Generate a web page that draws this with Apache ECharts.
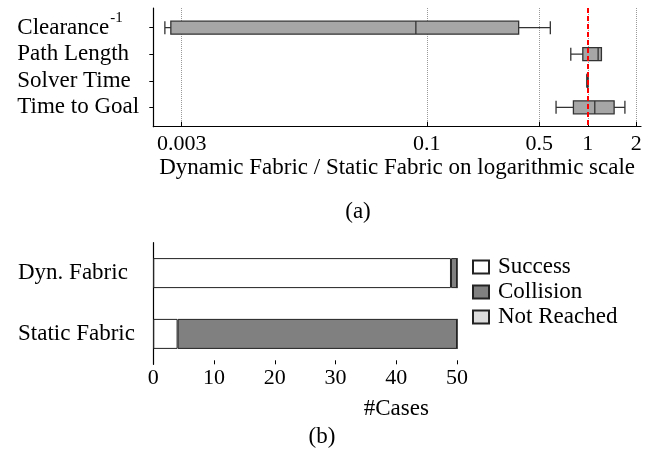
<!DOCTYPE html>
<html><head><meta charset="utf-8">
<script src="https://cdn.jsdelivr.net/npm/echarts@6/dist/echarts.min.js"></script>
<style>html,body{margin:0;padding:0;background:#fff}#c{width:650px;height:459px}</style>
</head><body><div id="c"></div>
<script>
// ---- data: panel (a) ----
const metrics = ['Clearance{sup|-1}', 'Path Length', 'Solver Time', 'Time to Goal'];
const metricPos = [0, 1, 2, 3];
// [min, Q1, median, Q3, max] of Dynamic Fabric / Static Fabric
const boxClearance = [0.00236, 0.00257, 0.0855, 0.372, 0.585];
const boxPathLength = [0.784, 0.931, 1.159, 1.215, 1.215];
const boxSolverTime = [0.985, 0.99, 0.995, 1.0, 1.005];
const boxTimeToGoal = [0.635, 0.814, 1.105, 1.457, 1.70];
const ratioTicks = [0.003, 0.1, 0.5, 1, 2];
const refRatio = 1;
// ---- data: panel (b) ----
const planners = ['Dyn. Fabric', 'Static Fabric'];
const success = [49, 4];
const collision = [1, 46];
const notReached = [0, 0];
const caseTicks = [0, 10, 20, 30, 40, 50];

const FONT = "'Liberation Serif','Times New Roman',serif";
const boxes = [boxClearance, boxPathLength, boxSolverTime, boxTimeToGoal];
const boxData = boxes.map((b, i) => [metricPos[i]].concat(b));

const chart = echarts.init(document.getElementById('c'), null, {renderer: 'canvas'});
chart.setOption({
  animation: false,
  backgroundColor: '#fff',
  textStyle: {fontFamily: FONT, color: '#000'},
  title: [
    {text: '(a)', left: 358, top: 200, textAlign: 'center', padding: 0,
     textStyle: {fontFamily: FONT, fontSize: 23, fontWeight: 'normal', color: '#000'}},
    {text: '(b)', left: 322, top: 425, textAlign: 'center', padding: 0,
     textStyle: {fontFamily: FONT, fontSize: 23, fontWeight: 'normal', color: '#000'}}
  ],
  grid: [
    {left: 153.3, right: 9, top: 8, bottom: 332.3},
    {left: 153.3, right: 10.7, top: 242.7, bottom: 94.7}
  ],
  xAxis: [
    {
      gridIndex: 0, type: 'log', logBase: 10, min: 0.002, max: 2.14,
      name: 'Dynamic Fabric / Static Fabric on logarithmic scale',
      nameLocation: 'middle', nameGap: 30,
      nameTextStyle: {fontFamily: FONT, fontSize: 23, color: '#000'},
      axisLine: {onZero: false, lineStyle: {color: '#000', width: 1.2}},
      axisTick: {show: true, inside: true, length: 5, customValues: ratioTicks, lineStyle: {color: '#000'}},
      axisLabel: {customValues: ratioTicks, margin: 7, fontFamily: FONT, fontSize: 22, color: '#000',
        formatter: v => String(v)},
      splitLine: {show: true, lineStyle: {color: '#999', type: [1, 1], width: 1}}
    },
    {
      gridIndex: 1, type: 'value', min: 0, max: 80,
      name: '#Cases', nameLocation: 'middle', nameGap: 33,
      nameTextStyle: {fontFamily: FONT, fontSize: 23, color: '#000'},
      axisLine: {onZero: false, lineStyle: {color: '#000', width: 1.2}},
      axisTick: {show: true, inside: true, length: 4, customValues: caseTicks, lineStyle: {color: '#000'}},
      axisLabel: {customValues: caseTicks, margin: 3, fontFamily: FONT, fontSize: 22, color: '#000'},
      splitLine: {show: false}
    }
  ],
  yAxis: [
    {
      gridIndex: 0, type: 'value', min: -0.74, max: 3.73, inverse: true,
      axisLine: {show: true, onZero: false, lineStyle: {color: '#000', width: 1.2}},
      axisTick: {show: true, length: 4, customValues: metricPos, lineStyle: {color: '#000'}},
      axisLabel: {
        customValues: metricPos, margin: 136, align: 'left',
        fontFamily: FONT, fontSize: 23, color: '#000',
        formatter: v => metrics[Math.round(v)],
        rich: {sup: {fontFamily: FONT, fontSize: 15, padding: [0, 0, 20, 1]}}
      },
      splitLine: {show: false}
    },
    {
      gridIndex: 1, type: 'category', data: planners, inverse: true,
      axisLine: {show: true, onZero: false, lineStyle: {color: '#000', width: 1.2}},
      axisTick: {show: false},
      axisLabel: {margin: 135.3, align: 'left', fontFamily: FONT, fontSize: 23, color: '#000'}
    }
  ],
  legend: {
    orient: 'vertical', left: 472, top: 255, itemWidth: 16, itemHeight: 13, itemGap: 1,
    icon: 'rect', padding: 0,
    textStyle: {fontFamily: FONT, fontSize: 23, lineHeight: 24, color: '#000', padding: [0, 0, 0, 4]},
    data: ['Success', 'Collision', 'Not Reached']
  },
  series: [
    {
      type: 'boxplot', xAxisIndex: 0, yAxisIndex: 0, layout: 'vertical',
      boxWidth: [13, 13],
      itemStyle: {color: '#a6a6a6', borderColor: '#333', borderWidth: 1.3},
      data: boxData,
      markLine: {
        silent: true, symbol: 'none', label: {show: false},
        lineStyle: {color: '#ff0000', type: [5, 3], width: 2},
        data: [{xAxis: refRatio}]
      }
    },
    {name: 'Success', type: 'bar', stack: 'c', xAxisIndex: 1, yAxisIndex: 1, barWidth: 30,
     itemStyle: {color: '#ffffff', borderColor: '#222', borderWidth: 1}, data: success},
    {name: 'Collision', type: 'bar', stack: 'c', xAxisIndex: 1, yAxisIndex: 1, barWidth: 30,
     itemStyle: {color: '#808080', borderColor: '#222', borderWidth: 1}, data: collision},
    {name: 'Not Reached', type: 'bar', stack: 'c', xAxisIndex: 1, yAxisIndex: 1, barWidth: 30,
     itemStyle: {color: '#dcdcdc', borderColor: '#222', borderWidth: 1}, data: notReached}
  ]
});
</script>
</body></html>
